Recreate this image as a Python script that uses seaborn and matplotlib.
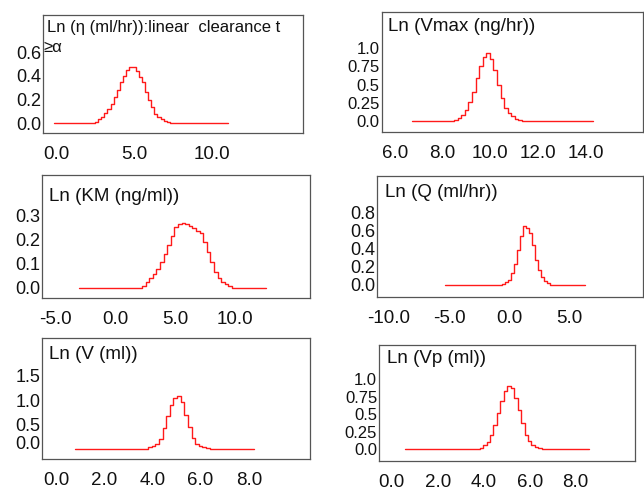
import matplotlib
matplotlib.use("Agg")
import matplotlib.pyplot as plt
import seaborn as sns
import numpy as np

# ---- posterior density outlines (bin centre, density) ----
eta_x = [-0.1, 2.2, 2.4, 2.6, 2.8, 3.0, 3.2, 3.4, 3.6, 3.8, 4.0, 4.2, 4.4, 4.6, 4.8,
         5.0, 5.2, 5.4, 5.6, 5.8, 6.0, 6.2, 6.4, 6.6, 6.8, 7.0, 7.2, 7.4, 7.6, 11.0]
eta_density = [0.0, 0.0, 0.004, 0.012, 0.030, 0.055, 0.085, 0.115, 0.165, 0.225, 0.285,
               0.345, 0.400, 0.450, 0.480, 0.475, 0.440, 0.395, 0.345, 0.260, 0.195,
               0.135, 0.080, 0.055, 0.035, 0.020, 0.008, 0.002, 0.0, 0.0]

vmax_x = [6.7, 8.40, 8.55, 8.70, 8.85, 9.00, 9.15, 9.30, 9.45, 9.60, 9.75, 9.90, 10.05,
          10.20, 10.35, 10.50, 10.65, 10.80, 10.95, 11.10, 11.25, 11.40, 14.3]
vmax_density = [0.0, 0.0, 0.010, 0.040, 0.085, 0.150, 0.260, 0.400, 0.590, 0.760, 0.880,
                0.930, 0.860, 0.700, 0.500, 0.310, 0.180, 0.110, 0.060, 0.030, 0.010,
                0.0, 0.0]

km_x = [-3.0, 2.1, 2.4, 2.7, 3.0, 3.3, 3.6, 3.9, 4.2, 4.5, 4.8, 5.1, 5.4, 5.7, 6.0, 6.3,
        6.6, 6.9, 7.2, 7.5, 7.8, 8.1, 8.4, 8.7, 9.0, 9.3, 9.6, 9.9, 12.6]
km_density = [0.0, 0.0, 0.005, 0.022, 0.040, 0.058, 0.077, 0.105, 0.140, 0.175, 0.215,
              0.250, 0.265, 0.268, 0.262, 0.255, 0.245, 0.235, 0.225, 0.190, 0.148,
              0.105, 0.065, 0.038, 0.025, 0.014, 0.005, 0.0, 0.0]

q_x = [-5.3, -0.75, -0.50, -0.25, 0.00, 0.25, 0.50, 0.75, 1.00, 1.25, 1.50, 1.75, 2.00,
       2.25, 2.50, 2.75, 3.00, 3.25, 3.50, 3.75, 6.3]
q_density = [0.0, 0.0, 0.010, 0.030, 0.060, 0.130, 0.230, 0.390, 0.540, 0.650, 0.630,
             0.570, 0.440, 0.280, 0.160, 0.090, 0.045, 0.020, 0.005, 0.0, 0.0]

v_x = [0.8, 3.75, 3.90, 4.05, 4.20, 4.35, 4.50, 4.65, 4.80, 4.95, 5.10, 5.25, 5.40, 5.55,
       5.70, 5.85, 6.00, 6.15, 6.30, 6.45, 8.2]
v_density = [0.0, 0.0, 0.050, 0.065, 0.110, 0.200, 0.420, 0.670, 0.890, 1.040, 1.090,
             0.950, 0.700, 0.440, 0.230, 0.110, 0.065, 0.045, 0.025, 0.0, 0.0]

vp_x = [0.6, 3.60, 3.75, 3.90, 4.05, 4.20, 4.35, 4.50, 4.65, 4.80, 4.95, 5.10, 5.25, 5.40,
        5.55, 5.70, 5.85, 6.00, 6.15, 6.30, 6.45, 6.60, 8.6]
vp_density = [0.0, 0.0, 0.010, 0.025, 0.060, 0.110, 0.200, 0.350, 0.520, 0.690, 0.830,
              0.910, 0.870, 0.730, 0.560, 0.370, 0.210, 0.115, 0.065, 0.035, 0.015, 0.0, 0.0]

# ---- titles and tick labels ----
titles = ["Ln (\u03b7 (ml/hr)):linear  clearance t", "Ln (Vmax (ng/hr))",
          "Ln (KM (ng/ml))", "Ln (Q (ml/hr))", "Ln (V (ml))", "Ln (Vp (ml))"]
eta_title_tail = "\u2265\u03b1"

eta_xticks, eta_xlabels = [0, 5, 10, 15], ["0.0", "5.0", "10.0", ""]
eta_yticks, eta_ylabels = [0, 0.2, 0.4, 0.6], ["0.0", "0.2", "0.4", "0.6"]
vmax_xticks, vmax_xlabels = [6, 8, 10, 12, 14, 16], ["6.0", "8.0", "10.0", "12.0", "14.0", ""]
vmax_yticks, vmax_ylabels = [0, 0.25, 0.5, 0.75, 1.0], ["0.0", "0.25", "0.5", "0.75", "1.0"]
km_xticks, km_xlabels = [-5, 0, 5, 10, 15], ["-5.0", "0.0", "5.0", "10.0", ""]
km_yticks, km_ylabels = [0, 0.1, 0.2, 0.3], ["0.0", "0.1", "0.2", "0.3"]
q_xticks, q_xlabels = [-10, -5, 0, 5, 10], ["-10.0", "-5.0", "0.0", "5.0", ""]
q_yticks, q_ylabels = [0, 0.2, 0.4, 0.6, 0.8], ["0.0", "0.2", "0.4", "0.6", "0.8"]
v_xticks, v_xlabels = [0, 2, 4, 6, 8, 10], ["0.0", "2.0", "4.0", "6.0", "8.0", ""]
v_yticks, v_ylabels = [0, 0.5, 1.0, 1.5], ["0.0", "0.5", "1.0", "1.5"]
vp_xticks, vp_xlabels = [0, 2, 4, 6, 8, 10], ["0.0", "2.0", "4.0", "6.0", "8.0", ""]
vp_yticks, vp_ylabels = [0, 0.25, 0.5, 0.75, 1.0], ["0.0", "0.25", "0.5", "0.75", "1.0"]

sns.set_style("white")
plt.rcParams["font.family"] = ["Liberation Sans", "DejaVu Sans"]

W, H = 644, 488
fig = plt.figure(figsize=(W / 100, H / 100), dpi=100)

LINE = "#ff1a1a"
FRAME = "#555555"
INK = "#111111"

# (left, top, right, bottom) in pixels, x limits, y limits, y-label size, title baseline
panels = [
    dict(box=(43, 15, 303, 133), xlim=(-0.833, 15.83), ylim=(-0.085, 0.919), ysize=13,
         x=eta_x, y=eta_density, xt=eta_xticks, xl=eta_xlabels, yt=eta_yticks, yl=eta_ylabels,
         title=titles[0], tpos=(47.3, 31.7), tsize=12),
    dict(box=(381.7, 12, 643, 132), xlim=(5.44, 16.40), ylim=(-0.156, 1.503), ysize=12,
         x=vmax_x, y=vmax_density, xt=vmax_xticks, xl=vmax_xlabels, yt=vmax_yticks, yl=vmax_ylabels,
         title=titles[1], tpos=(388.3, 31), tsize=13.5),
    dict(box=(42.3, 175, 310, 298), xlim=(-6.06, 16.25), ylim=(-0.0426, 0.4657), ysize=13,
         x=km_x, y=km_density, xt=km_xticks, xl=km_xlabels, yt=km_yticks, yl=km_ylabels,
         title=titles[2], tpos=(49.3, 200.7), tsize=13.5),
    dict(box=(377.3, 176, 642.7, 296.7), xlim=(-10.95, 11.06), ylim=(-0.129, 1.2), ysize=13,
         x=q_x, y=q_density, xt=q_xticks, xl=q_xlabels, yt=q_yticks, yl=q_ylabels,
         title=titles[3], tpos=(385, 196.7), tsize=13.5),
    dict(box=(42.3, 338.3, 310, 459.3), xlim=(-0.568, 10.54), ylim=(-0.21, 2.26), ysize=13,
         x=v_x, y=v_density, xt=v_xticks, xl=v_xlabels, yt=v_yticks, yl=v_ylabels,
         title=titles[4], tpos=(49.3, 359.3), tsize=13.5),
    dict(box=(379.3, 345, 635, 460.7), xlim=(-0.539, 10.58), ylim=(-0.163, 1.49), ysize=12,
         x=vp_x, y=vp_density, xt=vp_xticks, xl=vp_xlabels, yt=vp_yticks, yl=vp_ylabels,
         title=titles[5], tpos=(386.7, 363.3), tsize=13.5),
]

axes = []
for p in panels:
    l, t, r, b = p["box"]
    ax = fig.add_axes([l / W, 1 - b / H, (r - l) / W, (b - t) / H])
    sns.lineplot(x=np.asarray(p["x"]), y=np.asarray(p["y"]), ax=ax, color=LINE,
                 linewidth=1.0, drawstyle="steps-mid", estimator=None, sort=False)
    ax.set_xlim(*p["xlim"])
    ax.set_ylim(*p["ylim"])
    ax.set_xticks(p["xt"])
    ax.set_xticklabels(p["xl"])
    ax.set_yticks(p["yt"])
    ax.set_yticklabels(p["yl"])
    ax.set_xlabel("")
    ax.set_ylabel("")
    ax.tick_params(axis="x", direction="out", length=5, width=0.8, color=FRAME,
                   pad=4.5, labelsize=13.5, labelcolor=INK)
    ax.tick_params(axis="y", direction="in", length=5, width=0.8, color=FRAME,
                   pad=1.5, labelsize=p["ysize"], labelcolor=INK)
    for s in ax.spines.values():
        s.set_visible(True)
        s.set_color(FRAME)
        s.set_linewidth(0.9)
    tx, ty = p["tpos"]
    fig.text(tx / W, 1 - ty / H, p["title"], ha="left", va="baseline",
             fontsize=p["tsize"], color=INK)
    axes.append(ax)

# wrapped tail of the first title
fig.text(43.5 / W, 1 - 52.3 / H, eta_title_tail, ha="left", va="baseline",
         fontsize=12, color=INK)

# the zero label of the V panel sits a little above its tick
axes[4].get_yticklabels()[0].set_va("baseline")

fig.savefig("out.png", dpi=100)
